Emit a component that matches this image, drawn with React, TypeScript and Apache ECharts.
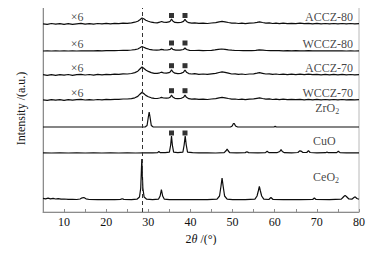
import React, { useEffect, useRef } from "react";
import * as echarts from "echarts";

// 2θ (deg) vs intensity (arbitrary units, stacked)
const sampleNames = ["ACCZ-80", "WCCZ-80", "ACCZ-70", "WCCZ-70", "ZrO2", "CuO", "CeO2"];
const offsets = [188, 161, 137, 112, 85, 59, 12];

const ACCZ80 = [[5,0.2],[6,-0.4],[7,0.5],[8,-0.2],[9,0.4],[10,-0.3],[11,0.3],[12,-0.4],[13,0.2],[14,0.6],[15,-0.1],[16,0.4],[17,-0.2],[18,0.5],[19,0.1],[20,0.6],[21,0.2],[22,0.7],[23,0.4],[24,0.9],[25,0.7],[26,1.2],[26.8,1.8],[27.5,2.8],[28,4.3],[28.5,6],[28.9,5.2],[29.4,3.8],[30,2.7],[30.7,1.8],[31.4,1.3],[32.1,1.2],[32.7,1.8],[33.1,2.5],[33.6,1.9],[34.3,1.7],[34.9,2.1],[35.25,3],[35.5,5],[35.8,3],[36.3,1.6],[37,1.3],[37.7,1.5],[38.35,2.6],[38.7,4.6],[39.05,2.6],[39.6,1.3],[40.3,0.9],[41,1.2],[42,0.6],[43,0.9],[44,0.5],[45,1],[46,1.4],[46.8,2.1],[47.5,2.6],[48.2,2.2],[49,1.5],[49.8,0.9],[50.6,1],[51.4,0.5],[52.2,0.9],[53,0.4],[54,0.9],[55,1],[55.8,1.6],[56.4,2.1],[57.1,1.5],[57.9,0.9],[58.7,1.1],[59.5,0.5],[60.3,0.9],[61.1,0.4],[62,0.8],[63,0.3],[64,0.7],[65,0.3],[66,0.8],[67,0.3],[68,0.7],[69,0.2],[70,0.6],[71,0.2],[72,0.5],[73,0.1],[74,0.5],[75,0.2],[76,0.5],[77,0.1],[78,0.5],[79,0.2],[80,0.4]];

const WCCZ80 = [[5,0],[6,0.2],[7,0],[8,0.2],[9,0],[10,0.2],[11,0],[12,0.2],[13,0],[14,0.2],[15,0.1],[16,0.2],[17,0.1],[18,0.3],[19,0.2],[20,0.3],[21,0.3],[22,0.4],[23,0.5],[24,0.6],[25,0.7],[26,1],[26.8,1.4],[27.5,2],[28,3.2],[28.5,4.5],[28.9,3.8],[29.5,2.6],[30.2,1.7],[31,1.1],[32,0.9],[32.7,1.2],[33.1,1.6],[33.7,1.1],[34.5,1],[35.2,1.6],[35.5,3],[35.8,1.6],[36.5,0.9],[37.5,0.8],[38.35,1.5],[38.7,3],[39.05,1.5],[39.8,0.7],[41,0.5],[42,0.6],[43,0.4],[44,0.5],[45,0.7],[45.8,1.1],[46.6,1.6],[47.4,2],[48.2,1.7],[49,1.2],[49.8,0.8],[50.6,0.5],[51.5,0.5],[52.5,0.3],[53.5,0.5],[54.5,0.4],[55.5,0.7],[56.3,1.1],[57.2,0.8],[58,0.5],[59,0.4],[60,0.3],[61,0.4],[62,0.2],[63,0.3],[64,0.2],[65,0.3],[66,0.2],[67,0.2],[68,0.3],[69,0.1],[70,0.2],[71,0.1],[72,0.2],[73,0.1],[74,0.2],[75,0.1],[76,0.2],[77,0],[78,0.2],[79,0],[80,0.1]];

const ACCZ70 = [[5,0.3],[6,-0.3],[7,0.4],[8,-0.4],[9,0.3],[10,-0.2],[11,0.5],[12,-0.3],[13,0.3],[14,0.7],[15,0],[16,0.5],[17,-0.1],[18,0.6],[19,0.2],[20,0.7],[21,0.3],[22,0.8],[23,0.6],[24,1.1],[25,1],[26,1.5],[26.8,2.4],[27.5,3.8],[28,6],[28.5,8],[28.9,6.8],[29.4,5],[30,3.6],[30.7,2.4],[31.4,1.7],[32.1,1.6],[32.7,2.2],[33.1,2.8],[33.6,2.2],[34.3,1.9],[34.9,2.3],[35.25,3.2],[35.5,5.2],[35.8,3.2],[36.3,1.8],[37,1.4],[37.7,1.6],[38.35,2.8],[38.7,5],[39.05,2.8],[39.6,1.4],[40.3,1],[41,1.3],[42,0.7],[43,1],[44,0.6],[45,1.1],[46,1.6],[46.8,2.5],[47.5,3.1],[48.2,2.6],[49,1.8],[49.8,1],[50.6,1.2],[51.4,0.6],[52.2,1],[53,0.5],[54,1],[55,1.2],[55.8,1.8],[56.4,2.3],[57.1,1.7],[57.9,1],[58.7,1.2],[59.5,0.6],[60.3,1],[61.1,0.5],[62,0.9],[63,0.4],[64,0.8],[65,0.4],[66,0.9],[67,0.3],[68,0.8],[69,0.3],[70,0.7],[71,0.2],[72,0.6],[73,0.2],[74,0.6],[75,0.2],[76,0.6],[77,0.2],[78,0.5],[79,0.1],[80,0.4]];

const WCCZ70 = [[5,0.1],[6,-0.3],[7,0.4],[8,-0.2],[9,0.3],[10,-0.3],[11,0.4],[12,-0.2],[13,0.3],[14,0.6],[15,0],[16,0.4],[17,0],[18,0.5],[19,0.2],[20,0.6],[21,0.3],[22,0.7],[23,0.6],[24,1],[25,1],[26,1.4],[26.8,2.2],[27.5,3.6],[28,5.8],[28.5,7.8],[28.9,6.5],[29.4,4.6],[30,3.3],[30.7,2.2],[31.4,1.6],[32.1,1.5],[32.7,2],[33.1,2.6],[33.6,2],[34.3,1.8],[34.9,2.2],[35.25,3],[35.5,5],[35.8,3],[36.3,1.7],[37,1.3],[37.7,1.5],[38.35,2.7],[38.7,4.8],[39.05,2.7],[39.6,1.3],[40.3,0.9],[41,1.2],[42,0.6],[43,0.9],[44,0.5],[45,1],[46,1.4],[46.8,2.1],[47.5,2.6],[48.2,2.2],[49,1.5],[49.8,0.9],[50.6,1],[51.4,0.5],[52.2,0.9],[53,0.4],[54,0.9],[55,1.1],[55.8,1.7],[56.4,2.1],[57.1,1.5],[57.9,0.9],[58.7,1.1],[59.5,0.5],[60.3,0.9],[61.1,0.4],[62,0.8],[63,0.3],[64,0.7],[65,0.3],[66,0.7],[67,0.2],[68,0.6],[69,0.2],[70,0.6],[71,0.2],[72,0.5],[73,0.1],[74,0.5],[75,0.1],[76,0.5],[77,0.1],[78,0.4],[79,0.1],[80,0.3]];

const ZrO2 = [[5,0],[20,0],[28,0],[29.3,0.2],[29.7,1.5],[30,10],[30.2,15],[30.4,10],[30.7,1.5],[31.1,0.2],[32,0],[40,0],[49.5,0],[49.9,1],[50.2,3.5],[50.4,3.5],[50.7,1],[51.2,0],[59.8,0],[60.1,0.6],[60.4,0],[70,0],[80,0]];

const CuO = [[5,0.2],[7,0],[9,0.2],[11,0],[13,0.2],[15,0],[17,0.2],[19,0],[21,0.2],[23,0],[25,0.2],[27,0],[29,0.2],[31,0.1],[32.2,0.4],[32.5,1.5],[32.8,0.4],[34,0.3],[35,0.8],[35.3,8],[35.5,17],[35.7,8],[36,0.8],[37,0.4],[38.2,0.8],[38.5,8],[38.75,17],[39,8],[39.3,0.8],[40.5,0.3],[42,0.1],[44,0.2],[46,0],[48,0.4],[48.5,2.5],[48.7,4],[48.9,2.5],[49.3,0.4],[51,0.2],[53,0.4],[53.4,1.3],[53.8,0.4],[56,0.2],[57.8,0.4],[58.2,1.8],[58.6,0.4],[60.5,0.3],[61.2,1.5],[61.5,3.4],[61.8,1.5],[62.3,0.3],[64,0.2],[65.5,0.5],[65.9,2.2],[66.3,1.8],[66.7,0.5],[67.6,0.5],[68,2.4],[68.4,0.5],[70,0.2],[72.1,0.3],[72.4,1],[72.7,0.3],[74.7,0.4],[75.1,1.8],[75.5,0.4],[77,0.2],[79,0.1],[80,0.2]];

const CeO2 = [[5,1.6],[5.6,1.1],[6.2,1.8],[6.8,1.2],[7.4,1.6],[8,1],[8.6,1.4],[9.3,0.8],[10,1],[11,0.6],[12,0.7],[13,0.5],[13.8,1],[14.3,2.2],[14.7,2.4],[15.2,1.2],[16,0.5],[18,0.4],[20,0.3],[22,0.4],[23.4,0.6],[23.8,1.3],[24.2,0.6],[26,0.4],[27.3,0.8],[27.9,3],[28.2,12],[28.45,41],[28.7,12],[29,3],[29.6,0.8],[31,0.4],[32.4,0.8],[32.8,4],[33.1,10.5],[33.4,4],[33.8,0.8],[35,0.4],[38,0.3],[41,0.3],[44,0.3],[46.3,0.9],[46.9,4],[47.25,14],[47.5,22],[47.75,14],[48.1,4],[48.7,0.9],[50,0.4],[53,0.3],[55.3,0.8],[55.8,4],[56.1,9],[56.35,13.5],[56.6,9],[56.9,4],[57.4,0.8],[58.6,0.5],[59.1,2.5],[59.6,0.5],[62,0.3],[66,0.3],[69,0.5],[69.4,2],[69.8,0.5],[73,0.3],[75.8,0.8],[76.4,3.5],[76.7,4.6],[77,3.5],[77.6,1],[78.3,0.8],[78.8,2.5],[79.1,3.2],[79.5,1.5],[80,0.8]];

const patterns = [ACCZ80, WCCZ80, ACCZ70, WCCZ70, ZrO2, CuO, CeO2];

// CuO reflections marked with squares (2θ) and their heights above each baseline
const cuoMarks2Theta = [35.5, 38.7];
const markHeights = [8.5, 8, 9.3, 9.3, null, 20, null];
const refLine2Theta = 28.5; // CeO2 (111)

export default function App() {
  const ref = useRef<HTMLDivElement>(null);
  useEffect(() => {
    if (!ref.current) return;
    const chart = echarts.init(ref.current, null, { renderer: "svg" });
    const font = "Liberation Serif";
    const txt = "#111111";
    const lineColor = "#0d0d0d";

    const series: any[] = patterns.map((p, i) => ({
      type: "line",
      name: sampleNames[i],
      data: p.map(([x, y]) => [x, y + offsets[i]]),
      showSymbol: false,
      symbol: "none",
      lineStyle: { color: lineColor, width: 1.2 },
      silent: true,
      z: 3,
      ...(i === 0
        ? {
            markLine: {
              silent: true,
              symbol: "none",
              label: { show: false },
              lineStyle: { color: "#333", type: [4, 3], width: 1 },
              data: [{ xAxis: refLine2Theta }],
            },
          }
        : {}),
    }));

    const squares: number[][] = [];
    markHeights.forEach((h, i) => {
      if (h == null) return;
      cuoMarks2Theta.forEach((x) => squares.push([x, offsets[i] + h]));
    });
    series.push({
      type: "scatter",
      data: squares,
      symbol: "rect",
      symbolSize: 5,
      itemStyle: { color: "#000" },
      silent: true,
      z: 4,
    });

    const textLabels: any[] = [];
    for (let i = 0; i < 4; i++) {
      textLabels.push({ value: [78.6, offsets[i] + 7.5], t: sampleNames[i], align: "right" });
      textLabels.push({ value: [11.6, offsets[i] + 7.5], t: "×6", align: "left" });
    }
    textLabels.push({ value: [69.6, offsets[4] + 19], t: "ZrO{s|2}", align: "left" });
    textLabels.push({ value: [69.1, offsets[5] + 12.3], t: "CuO", align: "left" });
    textLabels.push({ value: [69.1, offsets[6] + 23], t: "CeO{s|2}", align: "left" });

    series.push({
      type: "scatter",
      symbolSize: 0,
      silent: true,
      z: 5,
      itemStyle: { color: txt },
      label: {
        show: true,
        position: [0, 0],
        verticalAlign: "middle",
        fontFamily: font,
        fontSize: 12,
        color: txt,
        rich: {
          s: { fontSize: 8, fontFamily: font, color: txt, padding: [7, 0, 0, 0] },
        },
      },
      data: textLabels.map((d) => ({
        value: d.value,
        label: { align: d.align, formatter: d.t, color: txt },
      })),
    });

    chart.setOption({
      animation: false,
      textStyle: { fontFamily: font, color: txt },
      grid: {
        left: 43,
        right: 24,
        top: 5,
        bottom: 41,
        show: true,
        borderColor: "#b8b8b8",
        borderWidth: 1,
      },
      xAxis: {
        type: "value",
        min: 5,
        max: 80,
        interval: 5,
        name: "{a|2}{i|θ}{a| /(°)}",
        nameLocation: "middle",
        nameGap: 19,
        nameTextStyle: {
          fontFamily: font,
          rich: {
            a: { fontFamily: font, fontSize: 12, color: txt },
            i: { fontFamily: font, fontSize: 12, fontStyle: "italic", color: txt },
          },
        },
        axisLine: { lineStyle: { color: "#8c8c8c", width: 1 } },
        axisTick: { inside: true, length: 3, lineStyle: { color: "#8c8c8c" } },
        axisLabel: {
          fontFamily: font,
          fontSize: 12,
          color: txt,
          margin: 4,
          formatter: (v: number) => (v % 10 === 0 ? String(v) : ""),
        },
        splitLine: { show: false },
      },
      yAxis: {
        type: "value",
        min: 0,
        max: 207,
        name: "Intensity /(a.u.)",
        nameLocation: "middle",
        nameGap: 16,
        nameTextStyle: { fontFamily: font, fontSize: 12, color: txt },
        axisLine: { show: true, lineStyle: { color: "#8c8c8c", width: 1 } },
        axisTick: { show: false },
        axisLabel: { show: false },
        splitLine: { show: false },
      },
      series,
    });
    return () => chart.dispose();
  }, []);
  return <div ref={ref} style={{ width: 383, height: 253, margin: -8 }} />;
}
